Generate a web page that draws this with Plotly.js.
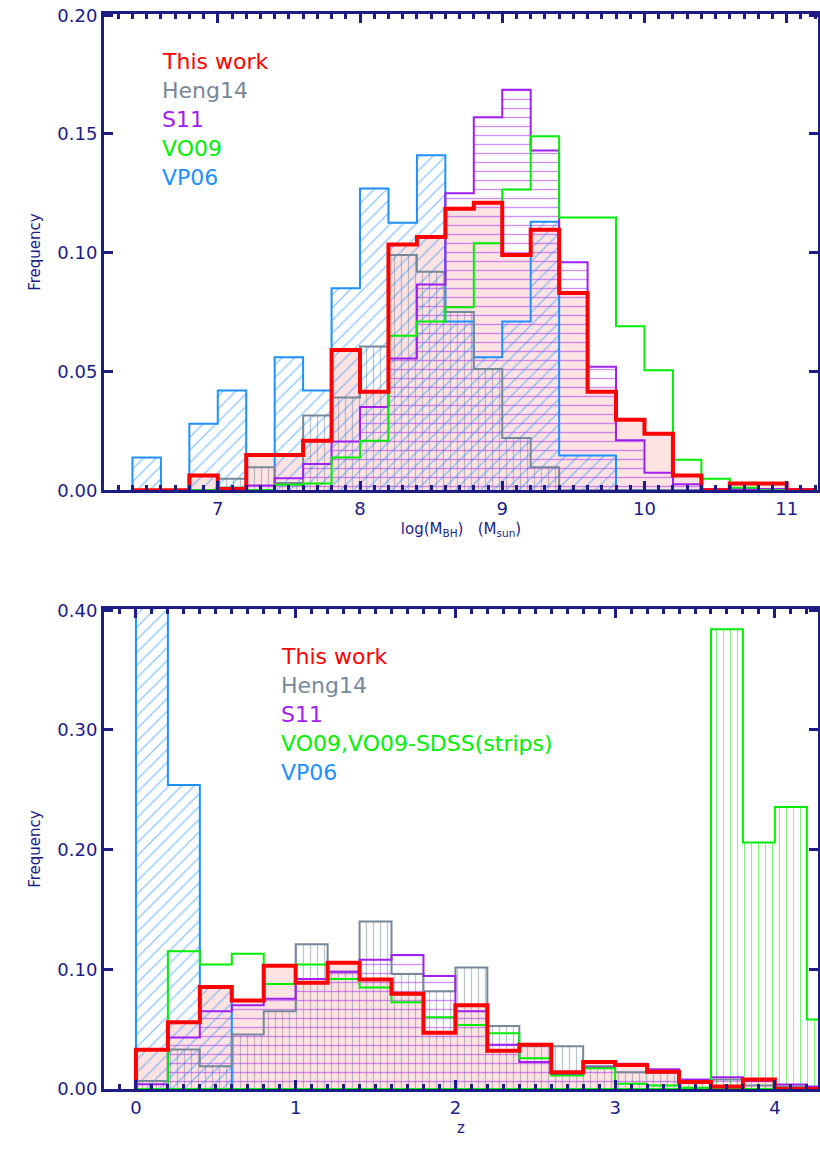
<!DOCTYPE html>
<html><head><meta charset="utf-8">
<script src="https://cdn.plot.ly/plotly-3.0.1.min.js"></script>
<style>body{margin:0;background:#fff}#c{width:820px;height:1165px}</style>
</head><body><div id="c"></div>
<script>
// ---- top panel: log(MBH) bins (left edges), width 0.2
const mStart = 6.4;
const mThis  = [0,0,0.0062,0.0005,0.0148,0.0148,0.0208,0.059,0.0415,0.1035,0.1066,0.1185,0.121,0.099,0.1097,0.083,0.0415,0.0297,0.0238,0.0062,0,0.0028,0.0028,0];
const mHeng  = [0,0,0,0.0048,0.0097,0.003,0.0315,0.039,0.0605,0.099,0.092,0.075,0.051,0.022,0.0097,0,0,0,0,0,0,0,0,0];
const mS11   = [0,0,0,0.001,0.002,0.005,0.011,0.0205,0.035,0.0555,0.0866,0.125,0.157,0.1686,0.143,0.096,0.052,0.021,0.0074,0.0025,0.0005,0.0005,0.0005,0.0005];
const mVO09  = [0,0,0,0.001,0,0.0023,0.0028,0.0138,0.0208,0.065,0.071,0.077,0.104,0.1266,0.149,0.1148,0.1148,0.069,0.0505,0.0128,0.0048,0.001,0,0];
const mVP06  = [0.0138,0,0.028,0.042,0,0.056,0.042,0.085,0.127,0.1126,0.141,0.071,0.056,0.071,0.113,0.0146,0.0146,0,0,0,0,0,0,0];
// ---- bottom panel: z bins
const zStart = 0;
const zThis  = [0.0327,0.0557,0.0853,0.074,0.103,0.0887,0.1055,0.0914,0.0795,0.047,0.070,0.032,0.037,0.014,0.0226,0.020,0.0144,0.0058,0.002,0.008,0,0];
const zHeng  = [0.0067,0.033,0.019,0.0456,0.065,0.121,0.098,0.140,0.096,0.0817,0.1015,0.0526,0.0358,0.0358,0.019,0.014,0.0135,0.007,0.008,0.003,0.002,0];
const zS11   = [0.004,0.043,0.065,0.070,0.0755,0.092,0.098,0.108,0.112,0.0945,0.065,0.037,0.0226,0.012,0.018,0.021,0.0165,0.008,0.0098,0.0067,0.0037,0.002];
const zVO09  = [0,0.115,0.104,0.113,0.0878,0.104,0.092,0.0847,0.0725,0.060,0.0535,0.0465,0.0257,0.0113,0.0174,0.0043,0.003,0.001,0,0,0,0];
const zSDSS  = [0,0,0,0,0,0,0,0,0,0,0,0,0,0,0,0,0,0,0.384,0.206,0.2355,0.058];
const zVP06  = [0.55,0.254,0.085,0,0,0,0,0,0,0,0,0,0,0,0,0,0,0,0,0,0,0];
const BW = 0.2;

const C = {red:'#ff0000', gray:'#778899', purple:'#a020f0', green:'#00ee00', blue:'#1e90ff', axis:'#1c1c84'};
const traces = [];
function centers(start,n){return Array.from({length:n},(_,i)=>+(start+BW*i+BW/2).toFixed(3));}
function bars(start,vals,ax,pat,col,fill){
  traces.push({type:'bar',x:centers(start,vals.length),y:vals,width:BW,xaxis:ax[0],yaxis:ax[1],showlegend:false,hoverinfo:'skip',
    marker:{color:fill||'rgba(0,0,0,0)',line:{width:0},pattern:pat?{shape:pat.s,fgcolor:col,bgcolor:'rgba(0,0,0,0)',size:pat.size,solidity:pat.sol,fillmode:'overlay'}:undefined}});
}
function outline(start,vals,ax,col,w){
  const x=[start],y=[0];
  for(let i=0;i<=vals.length;i++){x.push(+(start+BW*i).toFixed(3));}
  vals.forEach(v=>y.push(v)); y.push(0);
  traces.push({type:'scatter',mode:'lines',x:x,y:y,xaxis:ax[0],yaxis:ax[1],line:{shape:'hv',color:col,width:w},showlegend:false,hoverinfo:'skip'});
}
function panel(start,d,ax){
  bars(start,d.t,ax,null,null,'rgba(255,60,60,0.15)');
  bars(start,d.h,ax,{s:'|',size:7,sol:0.18},C.gray);
  bars(start,d.s,ax,{s:'-',size:9,sol:0.15},C.purple);
  if(d.sd) bars(start,d.sd,ax,{s:'|',size:7,sol:0.15},C.green);
  bars(start,d.p,ax,{s:'/',size:9,sol:0.15},C.blue);
  outline(start,d.p,ax,C.blue,2);
  outline(start,d.h,ax,C.gray,2);
  outline(start,d.s,ax,C.purple,2);
  outline(start,d.v,ax,C.green,2);
  if(d.sd) outline(start,d.sd,ax,C.green,2);
  outline(start,d.t,ax,C.red,4);
}
panel(mStart,{t:mThis,h:mHeng,s:mS11,v:mVO09,p:mVP06},['x','y']);
panel(zStart,{t:zThis,h:zHeng,s:zS11,v:zVO09,sd:zSDSS,p:zVP06},['x2','y2']);

const axBase = {showgrid:false,zeroline:false,showline:true,linecolor:C.axis,linewidth:3,mirror:'allticks',ticks:'inside',ticklabeloverflow:'allow',
  tickcolor:C.axis,tickwidth:3,ticklen:9,tickfont:{family:'DejaVu Sans',size:18,color:C.axis}};
const leg1 = ['This work','Heng14','S11','VO09','VP06'];
const leg2 = ['This work','Heng14','S11','VO09,VO09-SDSS(strips)','VP06'];
const legCol = [C.red,C.gray,C.purple,C.green,C.blue];
const ann=[];
function legend(labels,x0,y0){labels.forEach((t,i)=>ann.push({text:t,xref:'paper',yref:'paper',x:x0,y:y0-i*0.027,xanchor:'left',yanchor:'middle',showarrow:false,font:{family:'DejaVu Sans',size:22,color:legCol[i]}}));}
legend(leg1,0.078,0.956);
legend(leg2,0.245,0.402);
const layout = {width:820,height:1165,margin:{l:104,r:2,t:14,b:76},paper_bgcolor:'#fff',plot_bgcolor:'#fff',barmode:'overlay',bargap:0,
  xaxis:Object.assign({},axBase,{domain:[0,1],range:[6.2,11.22],dtick:1,tick0:0,anchor:'y',minor:{dtick:0.1,ticks:'inside',ticklen:5,tickcolor:C.axis,tickwidth:3},
    title:{text:'log(M<sub>BH</sub>)   (M<sub>sun</sub>)',font:{family:'DejaVu Sans',size:15,color:C.axis},standoff:6}}),
  yaxis:Object.assign({},axBase,{domain:[0.557,1],range:[0,0.2005],dtick:0.05,tickformat:'.2f',anchor:'x',
    title:{text:'Frequency',font:{family:'DejaVu Sans',size:15,color:C.axis},standoff:14}}),
  xaxis2:Object.assign({},axBase,{domain:[0,1],range:[-0.2,4.27],dtick:1,tick0:0,anchor:'y2',minor:{dtick:0.1,ticks:'inside',ticklen:5,tickcolor:C.axis,tickwidth:3},
    title:{text:'z',font:{family:'DejaVu Sans',size:15,color:C.axis},standoff:6}}),
  yaxis2:Object.assign({},axBase,{domain:[0,0.4465],range:[0,0.401],dtick:0.1,tickformat:'.2f',anchor:'x2',
    title:{text:'Frequency',font:{family:'DejaVu Sans',size:15,color:C.axis},standoff:14}}),
  annotations:ann};
Plotly.newPlot('c',traces,layout,{staticPlot:true});
</script></body></html>
